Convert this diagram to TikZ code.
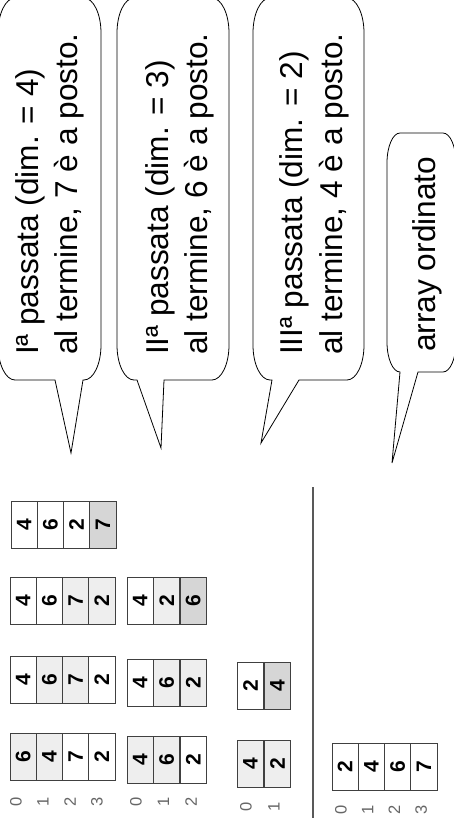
\documentclass[tikz,border=0pt]{standalone}
\usepackage{fontspec}
\setmainfont{Liberation Sans}
\usepackage{graphicx}
\definecolor{lt}{gray}{0.935}
\definecolor{dk}{gray}{0.84}
\colorlet{wh}{white}
\tikzset{
  cell/.style={draw=black!75, line width=0.9pt, minimum width=26.25pt, minimum height=47pt, inner sep=0pt, font=\fontsize{21}{21}\selectfont\bfseries},
  idx/.style={rotate=90, inner sep=0pt, text=black!60, font=\fontsize{16.5}{16.5}\selectfont},
  bubble/.style={draw=black, line width=0.8pt, fill=white},
  btext/.style={rotate=90, anchor=base west, inner sep=0pt, font=\fontsize{31.6}{36}\selectfont},
  sepline/.style={draw=black!65, line width=1.3pt}
}
\begin{document}
\begin{tikzpicture}[x=1pt,y=1pt]
\fill[white] (0,0) rectangle (454,-839);
\useasboundingbox (0,0) rectangle (454,-839);

% ---- callouts ----
% callout 1
\path[bubble] (55,-380) -- (71,-453) -- (83,-380) -- (84,-380)
  arc[start angle=-90,end angle=0,x radius=17,y radius=35] -- (101,-33)
  arc[start angle=0,end angle=90,x radius=17,y radius=35] -- (15,2)
  arc[start angle=90,end angle=180,x radius=17,y radius=35] -- (-2,-345)
  arc[start angle=180,end angle=270,x radius=17,y radius=35] -- cycle;
% callout 2
\path[bubble] (137,-380) -- (161,-448) -- (164,-380) -- (212,-380)
  arc[start angle=-90,end angle=0,x radius=17,y radius=35] -- (229,-33)
  arc[start angle=0,end angle=90,x radius=17,y radius=35] -- (134,2)
  arc[start angle=90,end angle=180,x radius=17,y radius=35] -- (117,-345)
  arc[start angle=180,end angle=270,x radius=17,y radius=35] -- cycle;
% callout 3
\path[bubble] (272,-380) -- (261,-443) -- (299,-380) -- (347,-380)
  arc[start angle=-90,end angle=0,x radius=17,y radius=35] -- (364,-33)
  arc[start angle=0,end angle=90,x radius=17,y radius=35] -- (270,2)
  arc[start angle=90,end angle=180,x radius=17,y radius=35] -- (253,-345)
  arc[start angle=180,end angle=270,x radius=17,y radius=35] -- cycle;
% callout 4
\path[bubble] (400,-372) -- (392,-463) -- (418,-372) -- (443,-372)
  arc[start angle=-90,end angle=0,x radius=13,y radius=30] -- (456,-163)
  arc[start angle=0,end angle=90,x radius=13,y radius=30] -- (400,-133)
  arc[start angle=90,end angle=180,x radius=13,y radius=30] -- (387,-342)
  arc[start angle=180,end angle=270,x radius=13,y radius=30] -- cycle;

\node[btext] (t1a) at (38,-355) {Iª passata (dim. = 4)};
\node[btext] (t1b) at (77,-355) {al termine, 7 è a posto.};
\node[btext] (t2a) at (168,-355) {IIª passata (dim. = 3)};
\node[btext] (t2b) at (207,-355) {al termine, 6 è a posto.};
\node[btext] (t3a) at (302,-355) {IIIª passata (dim. = 2)};
\node[btext] (t3b) at (342,-355) {al termine, 4 è a posto.};
\node[btext] (t4a) at (435,-352) {array ordinato};

% ---- row I ----
\foreach \v/\f [count=\i from 0] in {6/lt,4/lt,7/wh,2/wh}
  \node[cell,fill=\f] (a1-\i) at ({10+26.25*(\i+0.5)},-757) {\rotatebox{90}{\v}};
\foreach \v/\f [count=\i from 0] in {4/wh,6/lt,7/lt,2/wh}
  \node[cell,fill=\f] (a2-\i) at ({10+26.25*(\i+0.5)},-680) {\rotatebox{90}{\v}};
\foreach \v/\f [count=\i from 0] in {4/wh,6/wh,7/lt,2/lt}
  \node[cell,fill=\f] (a3-\i) at ({10+26.25*(\i+0.5)},-601) {\rotatebox{90}{\v}};
\foreach \v/\f [count=\i from 0] in {4/wh,6/wh,2/wh,7/dk}
  \node[cell,fill=\f] (a4-\i) at ({11+26.25*(\i+0.5)},-525) {\rotatebox{90}{\v}};
\foreach \i in {0,...,3}
  \node[idx] (ia-\i) at ({16+27*\i},-802) {\i};

% ---- row II ----
\foreach \v/\f [count=\i from 0] in {4/lt,6/lt,2/wh}
  \node[cell,fill=\f] (b1-\i) at ({127+26.5*(\i+0.5)},-760) {\rotatebox{90}{\v}};
\foreach \v/\f [count=\i from 0] in {4/wh,6/lt,2/lt}
  \node[cell,fill=\f] (b2-\i) at ({127+26.5*(\i+0.5)},-683) {\rotatebox{90}{\v}};
\foreach \v/\f [count=\i from 0] in {4/wh,2/lt,6/dk}
  \node[cell,fill=\f] (b3-\i) at ({127+26.5*(\i+0.5)},-601) {\rotatebox{90}{\v}};
\foreach \i in {0,...,2}
  \node[idx] (ib-\i) at ({136+27.5*\i},-802) {\i};

% ---- row III ----
\foreach \v/\f [count=\i from 0] in {4/lt,2/lt}
  \node[cell,fill=\f] (c1-\i) at ({237+27*(\i+0.5)},-764) {\rotatebox{90}{\v}};
\foreach \v/\f [count=\i from 0] in {2/wh,4/dk}
  \node[cell,fill=\f] (c2-\i) at ({237+27*(\i+0.5)},-686) {\rotatebox{90}{\v}};
\foreach \i in {0,1}
  \node[idx] (ic-\i) at ({246+28*\i},-807) {\i};

% ---- separator ----
\coordinate (s1) at (313,-487);
\coordinate (s2) at (313,-818);
\draw[sepline] (s1) -- (s2);

% ---- sorted array ----
\foreach \v [count=\i from 0] in {2,4,6,7}
  \node[cell,fill=wh] (d-\i) at ({332+26.25*(\i+0.5)},-767) {\rotatebox{90}{\v}};
\foreach \i in {0,...,3}
  \node[idx] (id-\i) at ({341+26.7*\i},-810) {\i};
\end{tikzpicture}
\end{document}
